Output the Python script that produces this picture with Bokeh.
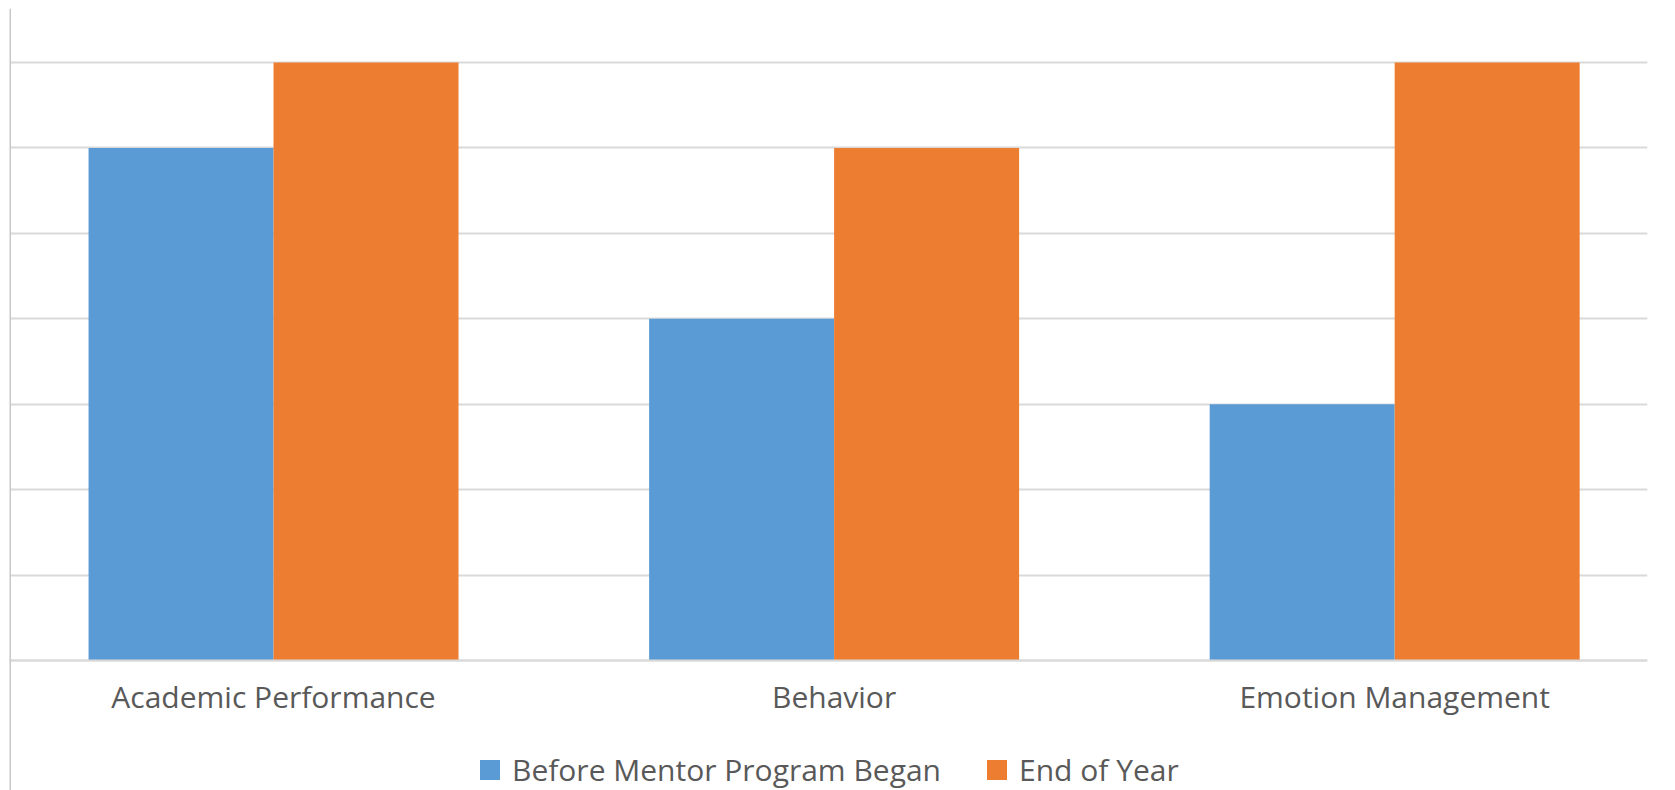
from bokeh.plotting import figure
from bokeh.models import (ColumnDataSource, Range1d, FixedTicker, Span, Legend,
                          LegendItem)
from bokeh.transform import dodge
from bokeh.embed import file_html
from bokeh.resources import INLINE

categories = ["Academic Performance", "Behavior", "Emotion Management"]
before_program = [6, 4, 3]
end_of_year = [7, 6, 7]
series_names = ["Before Mentor Program Began", "End of Year"]
y_ticks = [0, 1, 2, 3, 4, 5, 6, 7]

BLUE = "#5B9BD5"
ORANGE = "#ED7D31"
GRID = "#D9D9D9"
EDGE = "#C8C8C8"
TEXT = "#595959"
FONT = "Open Sans"

idx = list(range(len(categories)))
src = ColumnDataSource(dict(x=idx, before=before_program, end=end_of_year))

p = figure(width=1667, height=790, output_backend="svg", toolbar_location=None,
           x_range=Range1d(-0.471, 2.451), y_range=Range1d(-1.5217, 7.632),
           min_border_left=9, min_border_right=20, min_border_top=8,
           min_border_bottom=0)
p.outline_line_color = None
p.background_fill_color = "white"
p.border_fill_color = "white"

r1 = p.vbar(x=dodge("x", -0.165, range=p.x_range), top="before", width=0.33,
            source=src, fill_color=BLUE, line_color=None)
r2 = p.vbar(x=dodge("x", 0.165, range=p.x_range), top="end", width=0.33,
            source=src, fill_color=ORANGE, line_color=None)

p.yaxis.visible = False
p.ygrid.ticker = FixedTicker(ticks=y_ticks)
p.ygrid.grid_line_color = GRID
p.ygrid.grid_line_width = 2
p.xgrid.grid_line_color = None

p.xaxis.fixed_location = 0
p.xaxis.ticker = FixedTicker(ticks=idx)
p.xaxis.major_label_overrides = {i: c for i, c in zip(idx, categories)}
p.xaxis.axis_line_color = GRID
p.xaxis.axis_line_width = 2
p.xaxis.major_tick_line_color = None
p.xaxis.minor_tick_line_color = None
p.xaxis.major_tick_out = 0
p.xaxis.major_tick_in = 0
p.xaxis.major_label_standoff = 15
p.xaxis.major_label_text_font = FONT
p.xaxis.major_label_text_font_size = "30px"
p.xaxis.major_label_text_color = TEXT

p.add_layout(Span(location=-0.471, dimension="height", line_color=EDGE,
                  line_width=3))

legend = Legend(items=[LegendItem(label=series_names[0], renderers=[r1]),
                       LegendItem(label=series_names[1], renderers=[r2])],
                orientation="horizontal", location=(468, 0),
                glyph_width=25, glyph_height=25, label_standoff=10, spacing=43,
                padding=0, margin=0, border_line_color=None,
                background_fill_alpha=0,
                label_text_font=FONT, label_text_font_size="30px",
                label_text_color=TEXT)
p.add_layout(legend, "center")

open("out.html", "w").write(file_html(p, INLINE))
